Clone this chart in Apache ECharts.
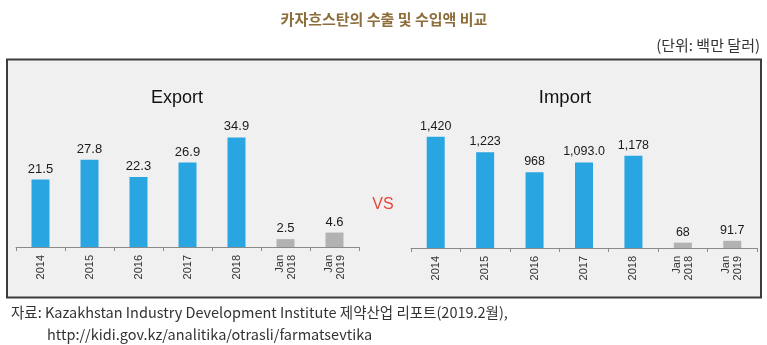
<!DOCTYPE html>
<html>
<head>
<meta charset="utf-8">
<script src="https://cdn.jsdelivr.net/npm/echarts@6/dist/echarts.min.js"></script>
<style>
  html, body { margin: 0; padding: 0; background: #ffffff; }
  #chart { width: 767px; height: 345px; }
</style>
</head>
<body>
<div id="chart"></div>
<script>
// Categories shared by both panels
const categories = ['2014', '2015', '2016', '2017', '2018', 'Jan\n2018', 'Jan\n2019'];

// Export values (million USD)
const exportValues = [21.5, 27.8, 22.3, 26.9, 34.9, 2.5, 4.6];
const exportLabels = ['21.5', '27.8', '22.3', '26.9', '34.9', '2.5', '4.6'];

// Import values (million USD)
const importValues = [1420, 1223, 968, 1093.0, 1178, 68, 91.7];
const importLabels = ['1,420', '1,223', '968', '1,093.0', '1,178', '68', '91.7'];

// Annual bars are blue, January-only bars are grey
const isMonthly = [false, false, false, false, false, true, true];

const FONT = '"Liberation Sans", Arial, sans-serif';
const KFONT = '"Noto Sans CJK KR", "Liberation Sans", sans-serif';
const BLUE = '#29a5e1';
const GREY = '#b2b2b2';

function barData(values, labels) {
  return values.map((v, i) => ({
    value: v,
    label: { formatter: labels[i] },
    itemStyle: { color: isMonthly[i] ? GREY : BLUE }
  }));
}

function xAxisFor(gridIndex) {
  return {
    type: 'category',
    gridIndex: gridIndex,
    data: categories,
    boundaryGap: true,
    axisLine: { lineStyle: { color: '#8a8a8a', width: 1 } },
    axisTick: { show: true, length: 4, lineStyle: { color: '#8a8a8a' } },
    axisLabel: {
      rotate: 90,
      margin: 8,
      fontSize: 11,
      lineHeight: 12,
      color: '#333',
      fontFamily: FONT,
      interval: 0
    }
  };
}

function yAxisFor(gridIndex, max) {
  return {
    type: 'value',
    gridIndex: gridIndex,
    min: 0,
    max: max,
    show: false,
    splitLine: { show: false }
  };
}

const chart = echarts.init(document.getElementById('chart'), null, { renderer: 'canvas' });

chart.setOption({
  backgroundColor: '#ffffff',
  animation: false,
  graphic: [
    {
      type: 'rect',
      z: -10,
      shape: { x: 7, y: 59.5, width: 754, height: 238 },
      style: { fill: '#f0f0f0', stroke: '#3c3c3c', lineWidth: 2 }
    },
    {
      type: 'text',
      x: 384, y: 19,
      style: {
        text: '카자흐스탄의 수출 및 수입액 비교',
        font: 'bold 15px ' + KFONT,
        fill: '#8d6e3b',
        textAlign: 'center',
        textVerticalAlign: 'middle'
      }
    },
    {
      type: 'text',
      x: 760, y: 45,
      style: {
        text: '(단위: 백만 달러)',
        font: '15px ' + KFONT,
        fill: '#333333',
        textAlign: 'right',
        textVerticalAlign: 'middle'
      }
    },
    {
      type: 'text',
      x: 177, y: 98,
      style: {
        text: 'Export',
        font: '18px ' + FONT,
        fill: '#111111',
        textAlign: 'center',
        textVerticalAlign: 'middle'
      }
    },
    {
      type: 'text',
      x: 565, y: 98,
      style: {
        text: 'Import',
        font: '18.5px ' + FONT,
        fill: '#111111',
        textAlign: 'center',
        textVerticalAlign: 'middle'
      }
    },
    {
      type: 'text',
      x: 383, y: 205,
      style: {
        text: 'VS',
        font: '16px ' + FONT,
        fill: '#e8463a',
        textAlign: 'center',
        textVerticalAlign: 'middle'
      }
    },
    {
      type: 'text',
      x: 11, y: 312,
      style: {
        text: '자료: Kazakhstan Industry Development Institute 제약산업 리포트(2019.2월),',
        font: '14.5px ' + KFONT,
        fill: '#333333',
        textAlign: 'left',
        textVerticalAlign: 'middle'
      }
    },
    {
      type: 'text',
      x: 47, y: 334,
      style: {
        text: 'http://kidi.gov.kz/analitika/otrasli/farmatsevtika',
        font: '14.5px ' + KFONT,
        fill: '#333333',
        textAlign: 'left',
        textVerticalAlign: 'middle'
      }
    }
  ],
  grid: [
    { left: 16, width: 343, top: 121.4, bottom: 98, containLabel: false },
    { left: 411, width: 346, top: 122.7, bottom: 97, containLabel: false }
  ],
  xAxis: [xAxisFor(0), xAxisFor(1)],
  yAxis: [yAxisFor(0, 40), yAxisFor(1, 1600)],
  series: [
    {
      type: 'bar',
      xAxisIndex: 0,
      yAxisIndex: 0,
      barWidth: 18,
      data: barData(exportValues, exportLabels),
      label: {
        show: true,
        position: 'top',
        distance: 4,
        fontSize: 13,
        color: '#1a1a1a',
        fontFamily: FONT
      }
    },
    {
      type: 'bar',
      xAxisIndex: 1,
      yAxisIndex: 1,
      barWidth: 18,
      data: barData(importValues, importLabels),
      label: {
        show: true,
        position: 'top',
        distance: 4,
        fontSize: 12.5,
        color: '#1a1a1a',
        fontFamily: FONT
      }
    }
  ]
});
</script>
</body>
</html>
